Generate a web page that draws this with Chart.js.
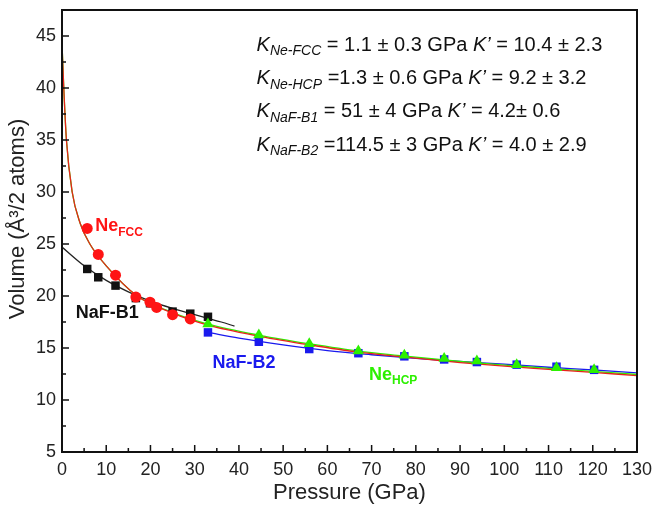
<!DOCTYPE html>
<html>
<head>
<meta charset="utf-8">
<script src="https://cdn.jsdelivr.net/npm/chart.js@4.4.0/dist/chart.umd.min.js"></script>
<style>
  html, body { margin: 0; padding: 0; background: #fff; }
  #wrap { width: 654px; height: 506px; }
</style>
</head>
<body>
<div id="wrap"><canvas id="eosChart" width="654" height="506"></canvas></div>
<script>
// measured points
const fccP = [5.7, 8.2, 12.1, 16.7, 19.9, 21.4, 25.0, 29.0];
const fccV = [26.5, 24.0, 22.0, 19.9, 19.4, 18.9, 18.2, 17.8];
const b1P = [5.7, 8.2, 12.1, 16.7, 19.9, 25.0, 29.0, 33.0];
const b1V = [22.6, 21.8, 21.0, 19.8, 19.3, 18.5, 18.3, 18.0];
const hcpP = [33.0, 44.5, 55.9, 67.0, 77.4, 86.4, 93.8, 102.8, 111.8, 120.3];
const hcpV = [17.3, 16.25, 15.4, 14.7, 14.3, 14.0, 13.75, 13.4, 13.1, 12.9];
const b2P = [33.0, 44.5, 55.9, 67.0, 77.4, 86.4, 93.8, 102.8, 111.8, 120.3];
const b2V = [16.5, 15.6, 14.9, 14.5, 14.2, 13.9, 13.65, 13.4, 13.2, 12.9];

// fitted EOS curves
const fccFitP = [0, 0.4, 1.0, 2.3, 4.1, 6.3, 10, 17, 25, 33, 45, 56, 67, 77, 90, 100, 110, 120, 130];
const fccFitV = [44.3, 40, 35, 30, 27, 25, 22.9, 20, 18.35, 17.2, 16.1, 15.3, 14.6, 14.15, 13.6, 13.25, 12.95, 12.65, 12.35];
const hcpFitP = [0, 0.4, 1.0, 2.3, 4.1, 6.3, 10, 17, 25, 33, 45, 56, 67, 77, 90, 100, 110, 120, 130];
const hcpFitV = [44.3, 40, 35, 30, 27, 25, 22.9, 20, 18.4, 17.3, 16.2, 15.4, 14.7, 14.25, 13.7, 13.35, 13.05, 12.75, 12.45];
const b1FitP = [0, 5, 10, 15, 20, 25, 30, 33, 36, 39];
const b1FitV = [24.7, 22.9, 21.5, 20.4, 19.5, 18.8, 18.2, 17.85, 17.5, 17.1];
const b2FitP = [33, 40, 50, 60, 70, 80, 90, 100, 110, 120, 130];
const b2FitV = [16.5, 15.95, 15.3, 14.75, 14.35, 14.0, 13.7, 13.45, 13.15, 12.9, 12.6];

const xTicks = [0, 10, 20, 30, 40, 50, 60, 70, 80, 90, 100, 110, 120, 130];
const yTicks = [5, 10, 15, 20, 25, 30, 35, 40, 45];

const eqLines = [
  ["Ne-FCC", " = 1.1 \u00b1 0.3 GPa ", " = 10.4 \u00b1 2.3"],
  ["Ne-HCP", " =1.3 \u00b1 0.6 GPa ", " = 9.2 \u00b1 3.2"],
  ["NaF-B1", " = 51 \u00b1 4 GPa ", " = 4.2\u00b1 0.6"],
  ["NaF-B2", " =114.5 \u00b1 3 GPa ", " = 4.0 \u00b1 2.9"]
];
const eqY = [44.1, 40.9, 37.7, 34.5];

const RED = "#ff1414";
const GREEN = "#2cf000";
const BLUE = "#1a1aee";
const BLACK = "#111111";
const FONT = "Arial, 'Liberation Sans', sans-serif";

function pts(xs, ys) { return xs.map((x, i) => ({ x: x, y: ys[i] })); }

function fitLine(label, xs, ys, color) {
  return { label: label, data: pts(xs, ys), showLine: true, borderColor: color, borderWidth: 1.3,
    pointRadius: 0, cubicInterpolationMode: "monotone", fill: false };
}

function drawParts(ctx, x, y, parts) {
  let cx = x;
  parts.forEach(p => {
    ctx.font = p.font;
    ctx.fillStyle = p.color;
    ctx.fillText(p.t, cx, y + (p.dy || 0));
    cx += ctx.measureText(p.t).width;
  });
}

const framePlugin = {
  id: "frame",
  afterDatasetsDraw(chart) {
    const ctx = chart.ctx, a = chart.chartArea;
    const xs = chart.scales.x, ys = chart.scales.y;
    ctx.save();
    ctx.strokeStyle = "#111";
    ctx.lineWidth = 2;
    ctx.strokeRect(a.left, a.top, a.right - a.left, a.bottom - a.top);
    ctx.lineWidth = 1.5;
    ctx.beginPath();
    for (let v = 0; v <= 130; v += 5) {
      const px = xs.getPixelForValue(v);
      const len = v % 10 === 0 ? 7 : 4;
      ctx.moveTo(px, a.bottom); ctx.lineTo(px, a.bottom - len);
    }
    for (let v = 5; v <= 47.5; v += 2.5) {
      const py = ys.getPixelForValue(v);
      const len = v % 5 === 0 ? 7 : 4;
      ctx.moveTo(a.left, py); ctx.lineTo(a.left + len, py);
    }
    ctx.stroke();

    // y axis title, sitting a little above the middle as in the figure
    ctx.save();
    ctx.translate(18, 219);
    ctx.rotate(-Math.PI / 2);
    ctx.font = "22px " + FONT;
    ctx.fillStyle = "#222";
    ctx.textAlign = "center";
    ctx.textBaseline = "middle";
    ctx.fillText("Volume (\u00c5\u00b3/2 atoms)", 0, 0);
    ctx.restore();

    // series labels
    ctx.textBaseline = "middle";
    const bold = s => "bold " + s + "px " + FONT;
    drawParts(ctx, xs.getPixelForValue(7.5), ys.getPixelForValue(26.7), [
      { t: "Ne", font: bold(18), color: RED },
      { t: "FCC", font: bold(12), color: RED, dy: 6 }
    ]);
    drawParts(ctx, xs.getPixelForValue(3.1), ys.getPixelForValue(18.4), [
      { t: "NaF-B1", font: bold(18), color: BLACK }
    ]);
    drawParts(ctx, xs.getPixelForValue(34.0), ys.getPixelForValue(13.6), [
      { t: "NaF-B2", font: bold(18), color: BLUE }
    ]);
    drawParts(ctx, xs.getPixelForValue(69.4), ys.getPixelForValue(12.4), [
      { t: "Ne", font: bold(18), color: GREEN },
      { t: "HCP", font: bold(12), color: GREEN, dy: 6 }
    ]);

    // EOS parameters
    const it = s => "italic " + s + "px " + FONT;
    const rg = s => s + "px " + FONT;
    eqLines.forEach((l, i) => {
      drawParts(ctx, xs.getPixelForValue(44.0), ys.getPixelForValue(eqY[i]), [
        { t: "K", font: it(20), color: BLACK },
        { t: l[0], font: it(14), color: BLACK, dy: 6 },
        { t: l[1], font: rg(20), color: BLACK },
        { t: "K\u2019", font: it(20), color: BLACK },
        { t: l[2], font: rg(20), color: BLACK }
      ]);
    });
    ctx.restore();
  }
};

const ctx = document.getElementById("eosChart").getContext("2d");
// Chart.js paints dataset 0 last, so the markers come first here
const chart = new Chart(ctx, {
  type: "scatter",
  data: {
    datasets: [
      { label: "Ne-HCP", data: pts(hcpP, hcpV), pointStyle: "triangle", pointRadius: 6.5,
        backgroundColor: GREEN, borderColor: GREEN, borderWidth: 0 },
      { label: "NaF-B2", data: pts(b2P, b2V), pointStyle: "rect", pointRadius: 6,
        backgroundColor: BLUE, borderColor: BLUE, borderWidth: 0 },
      { label: "Ne-FCC", data: pts(fccP, fccV), pointStyle: "circle", pointRadius: 5.5,
        backgroundColor: RED, borderColor: RED, borderWidth: 0 },
      { label: "NaF-B1", data: pts(b1P, b1V), pointStyle: "rect", pointRadius: 6,
        backgroundColor: BLACK, borderColor: BLACK, borderWidth: 0 },
      fitLine("Ne-FCC fit", fccFitP, fccFitV, "#e8231c"),
      fitLine("Ne-HCP fit", hcpFitP, hcpFitV, GREEN),
      fitLine("NaF-B2 fit", b2FitP, b2FitV, BLUE),
      fitLine("NaF-B1 fit", b1FitP, b1FitV, "#222222")
    ]
  },
  options: {
    responsive: false,
    animation: false,
    events: [],
    layout: { padding: { top: 10, right: 17, left: 0, bottom: 0 } },
    plugins: { legend: { display: false }, tooltip: { enabled: false } },
    scales: {
      x: {
        type: "linear", min: 0, max: 130,
        afterBuildTicks: s => { s.ticks = xTicks.map(v => ({ value: v })); },
        afterFit: s => { s.height = 54; s.paddingLeft = 0; s.paddingRight = 0; },
        grid: { display: false, drawTicks: false },
        border: { display: false },
        ticks: { font: { family: FONT, size: 18 }, color: "#222", padding: 7, maxRotation: 0, autoSkip: false },
        title: { display: true, text: "Pressure (GPa)", font: { family: FONT, size: 22 }, color: "#222", padding: { top: 0, bottom: 0 } }
      },
      y: {
        type: "linear", min: 5, max: 47.5,
        afterBuildTicks: s => { s.ticks = yTicks.map(v => ({ value: v })); },
        afterFit: s => { s.width = 62; s.paddingTop = 0; s.paddingBottom = 0; },
        grid: { display: false, drawTicks: false },
        border: { display: false },
        ticks: { font: { family: FONT, size: 18 }, color: "#222", padding: 6 },
        title: { display: false }
      }
    }
  },
  plugins: [framePlugin]
});
</script>
</body>
</html>
